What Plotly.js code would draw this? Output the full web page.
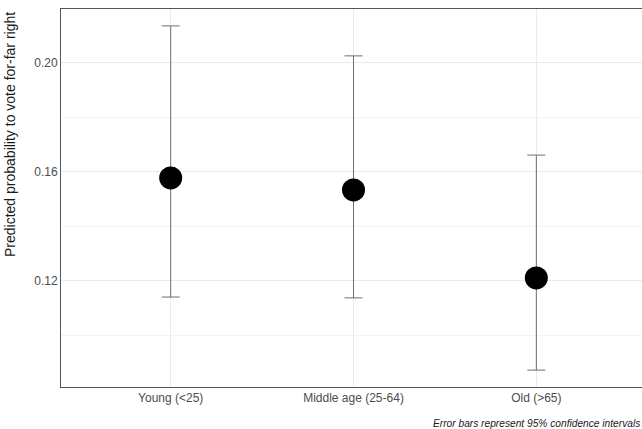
<!DOCTYPE html>
<html>
<head>
<meta charset="utf-8">
<script src="https://cdn.plot.ly/plotly-3.0.1.min.js"></script>
<style>html,body{margin:0;padding:0;overflow:hidden;background:#fff;}#chart{width:642px;height:429px;}</style>
</head>
<body>
<div id="chart"></div>
<script>
const categories = ["Young (<25)", "Middle age (25-64)", "Old (>65)"];
const predicted = [0.1578, 0.1534, 0.1211];
const ciUpper = [0.2136, 0.2026, 0.1662];
const ciLower = [0.1141, 0.1138, 0.0873];
const yTicks = [0.12, 0.16, 0.20];
const yTickLabels = ["0.12", "0.16", "0.20"];
const caption = "Error bars represent 95% confidence intervals";
const yTitle = "Predicted probability to vote for-far right";

const xIdx = categories.map((c, i) => i);
const trace = {
  type: "scatter",
  mode: "markers",
  x: xIdx,
  y: predicted,
  marker: {size: 23, color: "#000000"},
  error_y: {
    type: "data",
    symmetric: false,
    array: ciUpper.map((u, i) => u - predicted[i]),
    arrayminus: ciLower.map((l, i) => predicted[i] - l),
    color: "#6e6e6e",
    thickness: 1,
    width: 9
  },
  hoverinfo: "skip",
  showlegend: false
};

const layout = {
  width: 642,
  height: 429,
  margin: {l: 61, r: 0, t: 9, b: 42},
  paper_bgcolor: "#ffffff",
  plot_bgcolor: "#ffffff",
  font: {family: "Liberation Sans, Arial, sans-serif", color: "#4d4d4d"},
  xaxis: {
    range: [-0.6, 2.578],
    tickvals: xIdx,
    ticktext: categories,
    ticks: "",
    showgrid: true,
    gridcolor: "#ebebeb",
    gridwidth: 1,
    zeroline: false,
    showline: true,
    linecolor: "#555555",
    linewidth: 1,
    mirror: true,
    tickfont: {size: 12, color: "#4d4d4d"},
    fixedrange: true
  },
  yaxis: {
    range: [0.0811, 0.2198],
    tickvals: yTicks,
    ticktext: yTickLabels,
    ticks: "",
    showgrid: true,
    gridcolor: "#ebebeb",
    gridwidth: 1,
    minor: {tickvals: [0.10, 0.14, 0.18], showgrid: true, gridcolor: "#f3f3f3", gridwidth: 1, ticks: ""},
    zeroline: false,
    showline: true,
    linecolor: "#555555",
    linewidth: 1,
    tickfont: {size: 12, color: "#4d4d4d"},
    fixedrange: true
  },
  annotations: [
    {
      text: yTitle,
      xref: "paper", yref: "paper",
      x: -51 / 581, y: 1 - (135 - 9) / 378,
      xanchor: "center", yanchor: "middle",
      textangle: -90,
      showarrow: false,
      font: {size: 14, color: "#1a1a1a"}
    },
    {
      text: "<i>" + caption + "</i>",
      xref: "paper", yref: "paper",
      x: 1, y: -(423 - 387) / 378,
      xanchor: "right", yanchor: "middle",
      showarrow: false,
      font: {size: 10.2, color: "#1a1a1a"}
    }
  ]
};

Plotly.newPlot("chart", [trace], layout, {displayModeBar: false, staticPlot: true});
</script>
</body>
</html>
